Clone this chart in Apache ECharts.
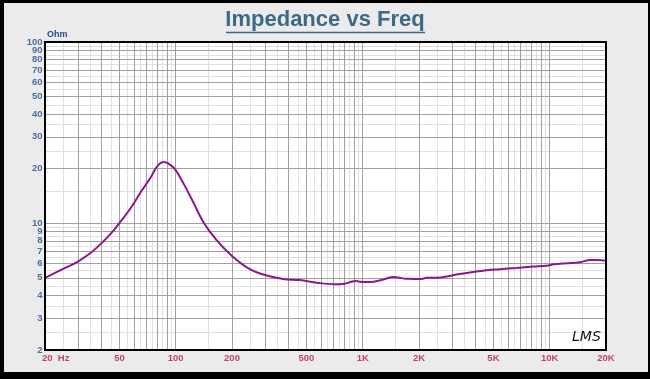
<!DOCTYPE html>
<html>
<head>
<meta charset="utf-8">
<script src="https://cdn.jsdelivr.net/npm/echarts@6/dist/echarts.min.js"></script>
<style>
html,body{margin:0;padding:0;background:#000;width:650px;height:379px;overflow:hidden;}
#frame{position:absolute;left:4px;top:3px;width:644px;height:369px;background:#ebebeb;}
#main{position:absolute;left:0;top:0;width:650px;height:379px;}
</style>
</head>
<body>
<div id="frame"></div>
<div id="main"></div>
<script>
// Data
const freqHz = [20, 25, 30, 35, 40, 46, 51, 58, 66, 73, 78, 82, 86, 91, 99, 110, 124, 141, 165, 200, 245, 300, 375, 460, 570, 700, 800, 870, 910, 965, 1090, 1290, 1460, 1720, 2020, 2200, 2600, 3300, 4400, 5400, 6650, 8150, 9650, 10500, 12300, 14500, 16400, 18000, 20000];
const impedanceOhm = [5.0, 5.6, 6.15, 6.85, 7.75, 9.0, 10.3, 12.3, 15.2, 17.7, 20.0, 21.3, 21.8, 21.4, 19.9, 16.6, 13.1, 10.1, 8.1, 6.6, 5.64, 5.18, 4.93, 4.86, 4.70, 4.61, 4.64, 4.76, 4.81, 4.76, 4.74, 4.90, 5.06, 4.94, 4.93, 5.0, 5.03, 5.25, 5.48, 5.58, 5.67, 5.77, 5.84, 5.94, 6.02, 6.10, 6.27, 6.28, 6.22];

// Axis ticks / grid
const xGridMajor = [20,30,40,50,60,70,80,90,100,200,300,400,500,600,700,800,900,1000,2000,3000,4000,5000,6000,7000,8000,9000,10000,20000];
const xGridMinor = [25,35,45,55,65,75,85,95,150,250,350,450,550,650,750,850,950,1500,2500,3500,4500,5500,6500,7500,8500,9500,15000];
const yGridMajor = [2,3,4,5,6,7,8,9,10,20,30,40,50,60,70,80,90,100];
const yGridMinor = [2.5,3.5,4.5,5.5,6.5,7.5,8.5,9.5,15,25,35,45,55,65,75,85,95];
const xTickValues = [20,50,100,200,500,1000,2000,5000,10000,20000];
const xTickLabels = ['20  Hz','50','100','200','500','1K','2K','5K','10K','20K'];
const yTickValues = [2,3,4,5,6,7,8,9,10,20,30,40,50,60,70,80,90,100];
const yTickLabels = ['2','3','4','5','6','7','8','9','10','20','30','40','50','60','70','80','90','100'];

const X_MIN = 20, X_MAX = 20000, Y_MIN = 2, Y_MAX = 100;
const MAJOR_COLOR = '#a0a0a0', MINOR_COLOR = '#e0e0e0';

function vLines(vals, color){
  return vals.map(v => [{coord:[v, Y_MIN], lineStyle:{color:color}}, {coord:[v, Y_MAX]}]);
}
function hLines(vals, color){
  return vals.map(v => [{coord:[X_MIN, v], lineStyle:{color:color}}, {coord:[X_MAX, v]}]);
}

const chart = echarts.init(document.getElementById('main'), null, {renderer:'canvas'});
const option = {
  animation: false,
  grid: {left:45, right:44, top:42, bottom:29, show:true, backgroundColor:'#ffffff', borderColor:'#000', borderWidth:0},
  xAxis: {type:'log', logBase:10, min:X_MIN, max:X_MAX,
    axisLine:{show:true, onZero:false, lineStyle:{color:'#000', width:2}},
    axisTick:{show:false}, axisLabel:{show:false}, splitLine:{show:false}, minorSplitLine:{show:false}},
  yAxis: {type:'log', logBase:10, min:Y_MIN, max:Y_MAX,
    axisLine:{show:true, onZero:false, lineStyle:{color:'#000', width:2}},
    axisTick:{show:false}, axisLabel:{show:false}, splitLine:{show:false}},
  graphic: [
    {type:'text', left:'center', top:9, style:{text:'Impedance vs Freq', font:'bold 22px "Liberation Sans", Arial, sans-serif', fill:'#3b6a86'}, z:10},
    {type:'line', shape:{x1:226, y1:32.5, x2:425, y2:32.5}, style:{stroke:'#3b6a86', lineWidth:1.5}, z:10},
    {type:'text', x:47, y:30, style:{text:'Ohm', font:'bold 9px "Liberation Sans", Arial, sans-serif', fill:'#1f4e8c'}, z:10},
    {type:'text', x:572, y:330, style:{text:'LMS', font:'italic 14px "DejaVu Sans", sans-serif', fill:'#111'}, z:10},
    {type:'rect', shape:{x:45, y:42, width:561, height:308}, style:{fill:'none', stroke:'#000', lineWidth:2}, z:20, silent:true}
  ],
  series: [
    {type:'line', data:[[X_MIN, Y_MIN]], symbol:'none', lineStyle:{opacity:0}, silent:true, z:1,
      markLine:{silent:true, symbol:['none','none'], animation:false, label:{show:false},
        lineStyle:{type:'solid', width:1, color:MINOR_COLOR},
        data: vLines(xGridMinor, MINOR_COLOR).concat(hLines(yGridMinor, MINOR_COLOR))}},
    {type:'line', data:[[X_MIN, Y_MIN]], symbol:'none', lineStyle:{opacity:0}, silent:true, z:2,
      markLine:{silent:true, symbol:['none','none'], animation:false, label:{show:false},
        lineStyle:{type:'solid', width:1, color:MAJOR_COLOR},
        data: vLines(xGridMajor, MAJOR_COLOR).concat(hLines(yGridMajor, MAJOR_COLOR))}},
    {type:'line', data: freqHz.map((f,i)=>[f, impedanceOhm[i]]), symbol:'none', smooth:0.35, z:5,
      lineStyle:{color:'#8b178b', width:2}},
    {type:'scatter', clip:false, symbolSize:1, itemStyle:{color:'transparent'}, silent:true, z:6,
      data: xTickValues.map((v,i)=>({value:[v, Y_MIN], label: i===0 ? {formatter:xTickLabels[i], align:'left', offset:[-3,0]} : {formatter:xTickLabels[i]}})),
      label:{show:true, position:'bottom', distance:3, color:'#b0164e', fontWeight:'bold', fontSize:9.5, fontFamily:'"Liberation Sans", Arial, sans-serif'}},
    {type:'scatter', clip:false, symbolSize:1, itemStyle:{color:'transparent'}, silent:true, z:6,
      data: yTickValues.map((v,i)=>({value:[X_MIN, v], label:{formatter:yTickLabels[i]}})),
      label:{show:true, position:'left', distance:2, color:'#1f4e8c', fontWeight:'bold', fontSize:9.5, fontFamily:'"Liberation Sans", Arial, sans-serif'}}
  ]
};
chart.setOption(option);
</script>
</body>
</html>
